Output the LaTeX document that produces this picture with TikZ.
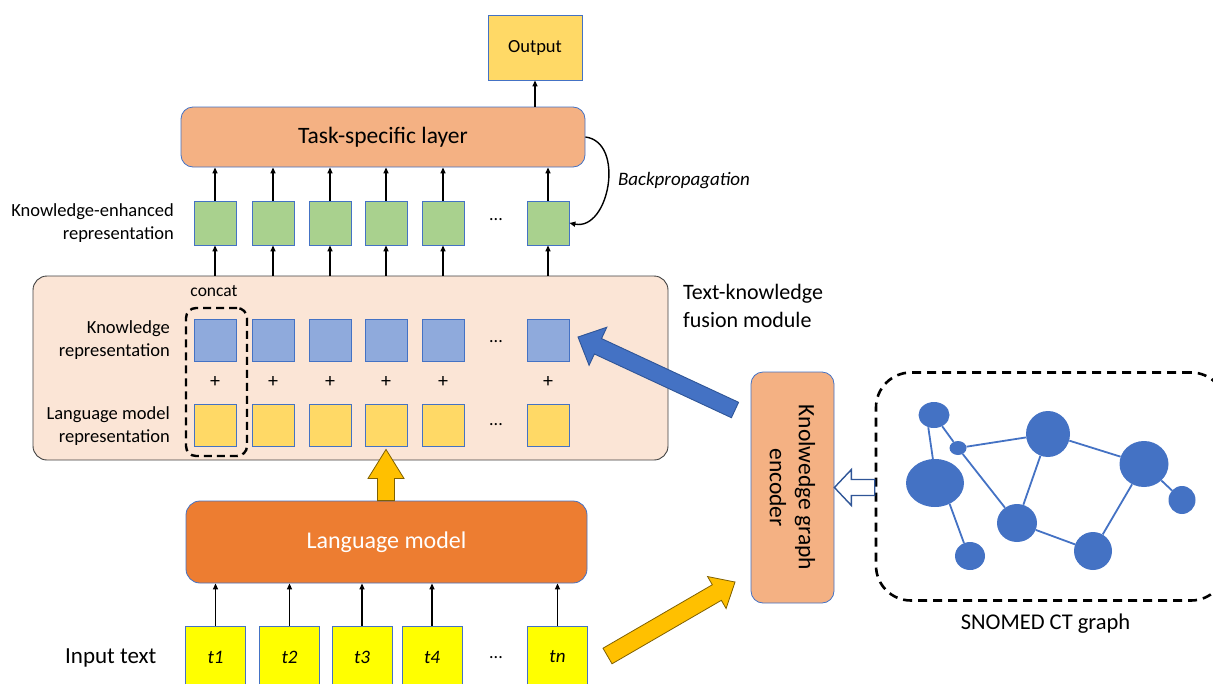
\documentclass[tikz,border=0pt]{standalone}
\usepackage{fontspec}
\setmainfont{Carlito}
\usetikzlibrary{arrows.meta,shapes.geometric,calc}

\definecolor{cTask}{HTML}{F4B183}
\definecolor{cLM}{HTML}{ED7D31}
\definecolor{cFus}{HTML}{FBE5D6}
\definecolor{cGold}{HTML}{FFD966}
\definecolor{cGreen}{HTML}{A9D18E}
\definecolor{cBlueBox}{HTML}{8FAADC}
\definecolor{cInput}{HTML}{FFFF00}
\definecolor{cEdge}{HTML}{4472C4}
\definecolor{cDarkBlue}{HTML}{2F5597}
\definecolor{cAmber}{HTML}{FFC000}
\definecolor{cAmberDark}{HTML}{7F6000}
\definecolor{cGrayLine}{HTML}{404040}

% block arrow: style, tail, tip, half shaft width, half head width, head length
\newcommand\fatarrow[6]{%
  \draw[#1] let \p1=(#2), \p2=(#3),
    \n1={veclen(\x2-\x1,\y2-\y1)},
    \n2={(\x2-\x1)/\n1}, \n3={(\y2-\y1)/\n1} in
    ({\x1-#4*\n3},{\y1+#4*\n2})
    -- ({\x2-#6*\n2-#4*\n3},{\y2-#6*\n3+#4*\n2})
    -- ({\x2-#6*\n2-#5*\n3},{\y2-#6*\n3+#5*\n2})
    -- (\p2)
    -- ({\x2-#6*\n2+#5*\n3},{\y2-#6*\n3-#5*\n2})
    -- ({\x2-#6*\n2+#4*\n3},{\y2-#6*\n3-#4*\n2})
    -- ({\x1+#4*\n3},{\y1-#4*\n2}) -- cycle;}

\tikzset{
  outline/.style={draw=cEdge, line width=0.8pt, inner sep=0pt},
  sqbox/.style={outline, minimum width=42pt, minimum height=42pt},
  greenbox/.style={sqbox, fill=cGreen, minimum height=44pt},
  bluebox/.style={sqbox, fill=cBlueBox},
  goldbox/.style={sqbox, fill=cGold},
  inbox/.style={outline, fill=cInput, minimum width=60pt, minimum height=62pt,
    font=\fontsize{19}{22}\selectfont\itshape},
  plus/.style={font=\fontsize{20}{22}\selectfont, inner sep=0pt},
  dots/.style={font=\fontsize{18}{22}\selectfont, inner sep=0pt},
  lbl/.style={font=\fontsize{18.5}{22.5}\selectfont, align=right, anchor=east, inner sep=0pt},
  conn/.style={-{Triangle[length=6pt,width=5pt]}, line width=1.4pt, black},
  graphnode/.style={ellipse, fill=cEdge, inner sep=0pt},
  graphedge/.style={draw=cEdge, line width=1.8pt},
  bigdash/.style={draw=black, line width=2.6pt, dash pattern=on 9pt off 6pt},
}

\begin{document}
\begin{tikzpicture}[x=1pt,y=-1pt]
\useasboundingbox (0,0) rectangle (1213,683);

% ---------- top: output and task-specific layer ----------
\node[outline, fill=cGold, minimum width=94pt, minimum height=65pt,
      font=\fontsize{18.5}{22}\selectfont] (out) at (535,47.5) {Output};
\node[outline, fill=cTask, rounded corners=12pt, minimum width=404pt, minimum height=60pt,
      font=\fontsize{23.5}{26}\selectfont] (task) at (383,137) {Task-specific layer};
\draw[conn] (task.north -| out) -- (out.south);

% ---------- fusion module ----------
\node[draw=cGrayLine, line width=0.9pt, fill=cFus, rounded corners=14pt,
      minimum width=635pt, minimum height=184pt] (fus) at (350.5,368) {};

\foreach \i/\x in {1/215,2/273,3/330,4/386,5/443,6/548} {
  \node[greenbox] (g\i) at (\x,223) {};
  \node[bluebox] (b\i) at (\x,340) {};
  \node[plus] (p\i) at (\x,382) {+};
  \node[goldbox] (y\i) at (\x,425) {};
  \draw[conn] (fus.north -| g\i) -- (g\i.south);
  \draw[conn] (g\i.north) -- (g\i.north |- task.south);
}

\node[dots] (dg) at (496,220) {...};
\node[dots] (db) at (496,342) {...};
\node[dots] (dy) at (496,425) {...};

\node[bigdash, line width=2.4pt, dash pattern=on 8pt off 5pt, rounded corners=10pt,
      minimum width=61pt, minimum height=148pt] (cc) at (216.5,382) {};
\node[font=\fontsize{17.5}{20}\selectfont, inner sep=0pt] (cct) at (214,291) {concat};

\node[lbl] (lke) at (174,223) {Knowledge-enhanced\\representation};
\node[lbl] (lkr) at (170,340) {Knowledge\\representation};
\node[lbl] (llm) at (170,426) {Language model\\representation};
\node[font=\fontsize{22}{28}\selectfont, align=left, anchor=west, inner sep=0pt]
      (lfus) at (683,306) {Text-knowledge\\fusion module};

% backpropagation loop
\draw[conn] (task.east) .. controls +(40,5) and +(40,8) .. (g6.east);
\node[font=\fontsize{19}{22}\selectfont\itshape, inner sep=0pt] (bp) at (684,181) {Backpropagation};

% ---------- language model and inputs ----------
\node[outline, fill=cLM, rounded corners=14pt, minimum width=401pt, minimum height=82pt,
      text=white, font=\fontsize{24}{26}\selectfont] (lm) at (386.5,542) {Language model};

\coordinate (uptip) at ($(fus.south -| y4)+(0,-11)$);
\fatarrow{fill=cAmber, draw=cAmberDark, line width=0.8pt}{lm.north -| y4}{uptip}{8.5pt}{18pt}{29pt}

\foreach \i/\x in {1/215.5,2/289.5,3/362,4/432,n/557.5} {
  \node[inbox] (t\i) at (\x,657) {t\i};
  \draw[conn] (t\i.north) -- (t\i.north |- lm.south);
}
\node[dots] (dt) at (496,658) {...};
\node[font=\fontsize{23}{26}\selectfont, anchor=west, inner sep=0pt] (lin) at (65,658) {Input text};

% ---------- knowledge graph encoder ----------
\node[outline, fill=cTask, rounded corners=12pt, minimum width=83pt, minimum height=231pt]
      (kg) at (792.5,487.5) {};
\node[rotate=-90, align=center, font=\fontsize{23.5}{29}\selectfont, inner sep=0pt]
      (kgt) at (kg.center) {Knolwedge graph\\encoder};

% ---------- SNOMED CT graph ----------
\node[bigdash, rounded corners=35pt, minimum width=350pt, minimum height=228pt]
      (gbox) at (1051,486.5) {};
\node[font=\fontsize{22.5}{26}\selectfont, inner sep=0pt] (gl) at (1045.5,624) {SNOMED CT graph};

\node[graphnode, minimum width=31pt, minimum height=26pt] (n1) at (934,415) {};
\node[graphnode, minimum width=17pt, minimum height=14pt] (n2) at (958,448) {};
\node[graphnode, minimum width=58pt, minimum height=48pt] (n3) at (935,483) {};
\node[graphnode, minimum width=44pt, minimum height=46pt] (n4) at (1048,434) {};
\node[graphnode, minimum width=49pt, minimum height=46pt] (n5) at (1144,464) {};
\node[graphnode, minimum width=27pt, minimum height=28pt] (n6) at (1182,500) {};
\node[graphnode, minimum width=40pt, minimum height=38pt] (n7) at (1017,523) {};
\node[graphnode, minimum width=38pt, minimum height=38pt] (n8) at (1093,551) {};
\node[graphnode, minimum width=30pt, minimum height=28pt] (n9) at (970,556) {};

\draw[graphedge] (n1.245) -- (n3.95);
\draw[graphedge] (n1) -- (n2);
\draw[graphedge] (n2) -- (n7);
\draw[graphedge] (n2) -- (n4);
\draw[graphedge] (n4) -- (n7);
\draw[graphedge] (n4) -- (n5);
\draw[graphedge] (n5) -- (n6);
\draw[graphedge] (n5) -- (n8);
\draw[graphedge] (n7) -- (n8);
\draw[graphedge] (n3.-55) -- (n9.115);

% ---------- block arrows between modules ----------
\fatarrow{fill=white, draw=cDarkBlue, line width=1.4pt}{gbox.west |- kg.east}{kg.east}{8pt}{18pt}{17pt}

\coordinate (bluetail) at (735,410);
\coordinate (bluetip) at (578,337);
\fatarrow{fill=cEdge, draw=cDarkBlue, line width=0.9pt}{bluetail}{bluetip}{8.5pt}{21pt}{22pt}

\coordinate (ambtail) at (607.5,656);
\coordinate (ambtip) at (735,582);
\fatarrow{fill=cAmber, draw=cAmberDark, line width=0.8pt}{ambtail}{ambtip}{9pt}{18.5pt}{21pt}
\end{tikzpicture}
\end{document}
